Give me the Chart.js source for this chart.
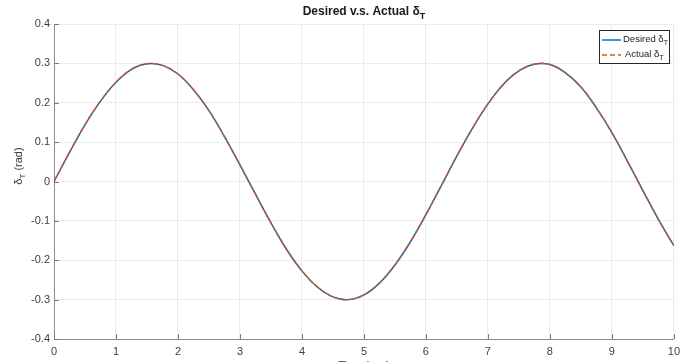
<!DOCTYPE html>
<html lang="en">
<head>
    <meta charset="UTF-8">
    <title>Desired v.s. Actual</title>
    <script src="https://cdn.jsdelivr.net/npm/chart.js"></script>
    <style>
        body {
            margin: 0;
            padding: 0;
            background: #ffffff;
        }
        .chart-box {
            position: relative;
            width: 686px;
            height: 362px;
        }
    </style>
</head>
<body>
    <div class="chart-box">
        <canvas id="deltaChart"></canvas>
    </div>

    <script>
        // time samples (sec) and values (rad)
        var timeSec = [0, 0.25, 0.5, 0.75, 1, 1.25, 1.5, 1.75, 2, 2.25, 2.5, 2.75, 3, 3.25, 3.5, 3.75, 4, 4.25, 4.5, 4.75, 5,
                       5.25, 5.5, 5.75, 6, 6.25, 6.5, 6.75, 7, 7.25, 7.5, 7.75, 8, 8.25, 8.5, 8.75, 9, 9.25, 9.5, 9.75, 10];
        var desiredDelta = [0, 0.074, 0.144, 0.204, 0.252, 0.285, 0.299, 0.295, 0.273, 0.233, 0.180, 0.114, 0.042, -0.032,
                            -0.105, -0.172, -0.227, -0.268, -0.293, -0.300, -0.288, -0.258, -0.212, -0.153, -0.084, -0.010,
                            0.065, 0.135, 0.197, 0.247, 0.281, 0.298, 0.297, 0.276, 0.240, 0.187, 0.124, 0.052, -0.023,
                            -0.096, -0.163];
        var actualDelta = [0, 0.074, 0.144, 0.204, 0.252, 0.285, 0.299, 0.295, 0.273, 0.233, 0.180, 0.114, 0.042, -0.032,
                           -0.105, -0.172, -0.227, -0.268, -0.293, -0.300, -0.288, -0.258, -0.212, -0.153, -0.084, -0.010,
                           0.065, 0.135, 0.197, 0.247, 0.281, 0.298, 0.297, 0.276, 0.240, 0.187, 0.124, 0.052, -0.023,
                           -0.096, -0.163];
        var xTicks = [0, 1, 2, 3, 4, 5, 6, 7, 8, 9, 10];
        var yTicks = [-0.4, -0.3, -0.2, -0.1, 0, 0.1, 0.2, 0.3, 0.4];

        var FONT = '"Liberation Sans", Arial, Helvetica, sans-serif';
        var BLUE = '#0072BD';
        var ORANGE = '#D95319';

        function toPoints(xs, ys) {
            return xs.map(function (x, i) { return { x: x, y: ys[i] }; });
        }

        // text with a subscript, drawn left to right from (x, y) baseline
        function drawSub(ctx, main, sub, x, y, size, bold) {
            var w = 0;
            ctx.font = (bold ? 'bold ' : '') + size + 'px ' + FONT;
            ctx.fillText(main, x, y);
            w += ctx.measureText(main).width;
            ctx.font = (bold ? 'bold ' : '') + Math.round(size * 0.72) + 'px ' + FONT;
            ctx.fillText(sub, x + w, y + size * 0.3);
            w += ctx.measureText(sub).width;
            return w;
        }

        function subWidth(ctx, main, sub, size, bold) {
            ctx.font = (bold ? 'bold ' : '') + size + 'px ' + FONT;
            var w = ctx.measureText(main).width;
            ctx.font = (bold ? 'bold ' : '') + Math.round(size * 0.72) + 'px ' + FONT;
            return w + ctx.measureText(sub).width;
        }

        var decorPlugin = {
            id: 'decor',
            afterDraw: function (chart) {
                var ctx = chart.ctx;
                var xs = chart.scales.x, ys = chart.scales.y;
                var area = chart.chartArea;
                ctx.save();

                // inward tick marks
                ctx.strokeStyle = '#7a7a7a';
                ctx.lineWidth = 1;
                ctx.beginPath();
                xTicks.forEach(function (t) {
                    var px = Math.round(xs.getPixelForValue(t)) + 0.5;
                    ctx.moveTo(px, area.bottom);
                    ctx.lineTo(px, area.bottom - 5);
                });
                yTicks.forEach(function (t) {
                    var py = Math.round(ys.getPixelForValue(t)) + 0.5;
                    ctx.moveTo(area.left, py);
                    ctx.lineTo(area.left + 5, py);
                });
                ctx.stroke();

                // title
                ctx.fillStyle = '#1a1a1a';
                ctx.textBaseline = 'alphabetic';
                ctx.textAlign = 'left';
                var tw = subWidth(ctx, 'Desired v.s. Actual \u03b4', 'T', 12, true);
                drawSub(ctx, 'Desired v.s. Actual \u03b4', 'T', (area.left + area.right) / 2 - tw / 2, 15, 12, true);

                // y axis title (rotated)
                ctx.fillStyle = '#333333';
                ctx.save();
                ctx.translate(22, 166);
                ctx.rotate(-Math.PI / 2);
                var yw = subWidth(ctx, '\u03b4', 'T', 11, false);
                ctx.font = '11px ' + FONT;
                yw += ctx.measureText(' (rad)').width;
                var w1 = drawSub(ctx, '\u03b4', 'T', -yw / 2, 0, 11, false);
                ctx.font = '11px ' + FONT;
                ctx.fillText(' (rad)', -yw / 2 + w1, 0);
                ctx.restore();

                // x axis title (mostly cut off by the bottom edge)
                ctx.font = '11px ' + FONT;
                ctx.textAlign = 'center';
                ctx.fillText('Time (sec)', (area.left + area.right) / 2, 369);

                // legend
                var lx = 599, ly = 30, lw = 70, lh = 33;
                ctx.fillStyle = '#ffffff';
                ctx.fillRect(lx, ly, lw, lh);
                ctx.strokeStyle = '#262626';
                ctx.lineWidth = 1;
                ctx.strokeRect(lx + 0.5, ly + 0.5, lw, lh);

                ctx.lineWidth = 1.5;
                ctx.strokeStyle = BLUE;
                ctx.setLineDash([]);
                ctx.beginPath();
                ctx.moveTo(lx + 3, ly + 10);
                ctx.lineTo(lx + 22, ly + 10);
                ctx.stroke();
                ctx.strokeStyle = ORANGE;
                ctx.setLineDash([5, 3]);
                ctx.beginPath();
                ctx.moveTo(lx + 3, ly + 25);
                ctx.lineTo(lx + 22, ly + 25);
                ctx.stroke();
                ctx.setLineDash([]);

                ctx.fillStyle = '#1a1a1a';
                ctx.textAlign = 'left';
                drawSub(ctx, 'Desired \u03b4', 'T', lx + 24, ly + 12, 9.5, false);
                drawSub(ctx, 'Actual \u03b4', 'T', lx + 26, ly + 27, 9.5, false);

                ctx.restore();
            }
        };

        var ctx = document.getElementById('deltaChart').getContext('2d');
        var deltaChart = new Chart(ctx, {
            type: 'scatter',
            data: {
                datasets: [{
                    label: 'Desired',
                    data: toPoints(timeSec, desiredDelta),
                    showLine: true,
                    borderColor: BLUE,
                    borderWidth: 1.5,
                    pointRadius: 0,
                    tension: 0.4,
                    order: 2
                }, {
                    label: 'Actual',
                    data: toPoints(timeSec, actualDelta),
                    showLine: true,
                    borderColor: ORANGE,
                    borderWidth: 1.5,
                    borderDash: [5, 3],
                    pointRadius: 0,
                    tension: 0.4,
                    order: 1
                }]
            },
            options: {
                responsive: true,
                maintainAspectRatio: false,
                animation: false,
                layout: {
                    padding: { top: 24, right: 12, left: 0, bottom: 0 }
                },
                plugins: {
                    legend: { display: false },
                    tooltip: { enabled: false }
                },
                scales: {
                    x: {
                        type: 'linear',
                        min: 0,
                        max: 10,
                        afterFit: function (s) { s.height = 23; },
                        afterBuildTicks: function (s) { s.ticks = xTicks.map(function (v) { return { value: v }; }); },
                        ticks: {
                            color: '#404040',
                            font: { family: FONT, size: 11 },
                            padding: 6,
                            maxRotation: 0
                        },
                        grid: { color: '#ebebeb', drawTicks: false },
                        border: { color: '#8c8c8c' }
                    },
                    y: {
                        min: -0.4,
                        max: 0.4,
                        afterFit: function (s) { s.width = 54; },
                        afterBuildTicks: function (s) { s.ticks = yTicks.map(function (v) { return { value: v }; }); },
                        ticks: {
                            color: '#404040',
                            font: { family: FONT, size: 11 },
                            padding: 4,
                            callback: function (v) { return String(parseFloat(v.toFixed(1))); }
                        },
                        grid: { color: '#ebebeb', drawTicks: false },
                        border: { color: '#8c8c8c' }
                    }
                }
            },
            plugins: [decorPlugin]
        });
    </script>
</body>
</html>
